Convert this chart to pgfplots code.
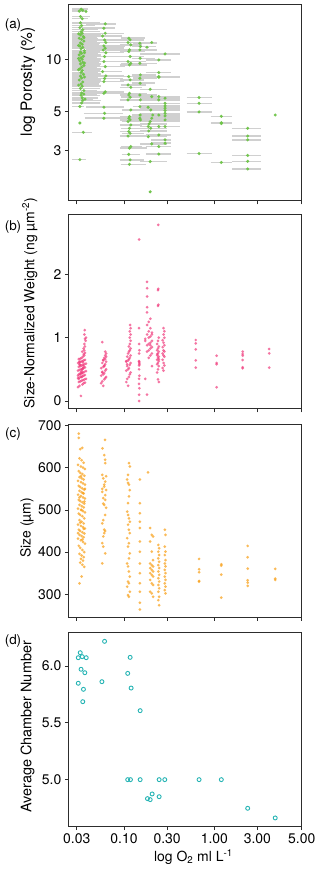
\documentclass[border=0pt]{standalone}
\usepackage{pgfplots}
\pgfplotsset{compat=1.18}
\usepackage{fontspec}
\setmainfont{TeX Gyre Heros}
\definecolor{cgreen}{RGB}{110,196,72}
\definecolor{cbar}{RGB}{208,208,208}
\definecolor{cpink}{RGB}{240,60,125}
\definecolor{corange}{RGB}{248,160,25}
\definecolor{cteal}{RGB}{38,180,180}
\definecolor{cframe}{RGB}{45,45,45}

\pgfplotsset{
 myax/.style={scale only axis, width=233.4bp,
  xminorticks=false, yminorticks=false,
  tick align=outside, xtick pos=bottom, ytick pos=left, major tick length=3.5bp,
  axis line style={cframe, line width=1pt}, tick style={cframe, line width=0.8pt},
  tick label style={font=\fontsize{14}{14}\selectfont},
  anchor=south west,
 },
}

\begin{document}
\begin{tikzpicture}
\useasboundingbox (0bp,0bp) rectangle (320bp,872bp);

% (a)
\begin{axis}[myax, at={(68.3bp,671bp)}, height=196bp,
  xmode=log, xmin=0.0242, xmax=9.27, xtick={0.03,0.1,0.3,1,3,9.27}, xticklabels={},
  ymode=log, ymin=1.532, ymax=20.5,
  ytick={3,5,10}, yticklabels={3,5,10},
  unbounded coords=jump,
  ylabel={log Porosity (\%)},
  every axis y label/.style={at={(axis description cs:-0.173,0.607)}, rotate=90, anchor=center, font=\fontsize{15.5}{15.5}\selectfont}]
\addplot[cbar, line width=1.5pt, mark=none] coordinates {
(0.0266,19.4)(0.0400,19.4)(1,nan) (0.0266,19.1)(0.0390,19.1)(1,nan) (0.0266,18.9)(0.0385,18.9)(1,nan)
(0.0266,17.6)(0.0420,17.6)(1,nan) (0.0266,17.1)(0.0400,17.1)(1,nan) (0.0266,16.2)(0.0540,16.2)(1,nan)
(0.0266,15.6)(0.0480,15.6)(1,nan) (0.0266,15.2)(0.0550,15.2)(1,nan) (0.0266,14.8)(0.0520,14.8)(1,nan)
(0.0266,14.4)(0.0545,14.4)(1,nan) (0.0266,14.1)(0.0500,14.1)(1,nan) (0.0266,13.8)(0.0560,13.8)(1,nan)
(0.0266,13.5)(0.0540,13.5)(1,nan) (0.0266,13.2)(0.0520,13.2)(1,nan) (0.0266,13.0)(0.0550,13.0)(1,nan)
(0.0266,12.7)(0.0500,12.7)(1,nan) (0.0266,12.4)(0.0545,12.4)(1,nan) (0.0266,12.2)(0.0530,12.2)(1,nan)
(0.0266,11.9)(0.0560,11.9)(1,nan) (0.0266,11.7)(0.0540,11.7)(1,nan) (0.0266,11.5)(0.0500,11.5)(1,nan)
(0.0266,11.2)(0.0550,11.2)(1,nan) (0.0266,11.0)(0.0545,11.0)(1,nan) (0.0266,10.8)(0.0520,10.8)(1,nan)
(0.0266,10.6)(0.0555,10.6)(1,nan) (0.0266,10.4)(0.0540,10.4)(1,nan) (0.0266,10.2)(0.0500,10.2)(1,nan)
(0.0266,10.0)(0.0550,10.0)(1,nan) (0.0266,9.8)(0.0545,9.8)(1,nan) (0.0266,9.6)(0.0530,9.6)(1,nan)
(0.0266,9.4)(0.0560,9.4)(1,nan) (0.0266,9.2)(0.0540,9.2)(1,nan) (0.0266,9.0)(0.0500,9.0)(1,nan)
(0.0266,8.8)(0.0550,8.8)(1,nan) (0.0266,8.6)(0.0545,8.6)(1,nan) (0.0266,8.4)(0.0520,8.4)(1,nan)
(0.0266,8.2)(0.0555,8.2)(1,nan) (0.0266,8.0)(0.0540,8.0)(1,nan) (0.0266,7.8)(0.0500,7.8)(1,nan)
(0.0266,7.6)(0.0550,7.6)(1,nan) (0.0266,7.4)(0.0545,7.4)(1,nan) (0.0266,7.2)(0.0530,7.2)(1,nan)
(0.0266,7.0)(0.0560,7.0)(1,nan) (0.0266,6.8)(0.0540,6.8)(1,nan) (0.0266,6.6)(0.0500,6.6)(1,nan)
(0.0266,6.4)(0.0550,6.4)(1,nan) (0.0266,6.2)(0.0545,6.2)(1,nan) (0.0266,6.0)(0.0520,6.0)(1,nan)
(0.0266,5.8)(0.0555,5.8)(1,nan) (0.0266,5.6)(0.0540,5.6)(1,nan) (0.0266,5.35)(0.0360,5.35)(1,nan)
(0.0266,3.8)(0.0440,3.8)(1,nan) (0.0266,2.65)(0.0380,2.65)(1,nan)
(0.0266,14.0)(0.0480,14.0)(1,nan) (0.0266,13.3)(0.0500,13.3)(1,nan) (0.0266,12.0)(0.0470,12.0)(1,nan)
(0.0266,10.9)(0.0520,10.9)(1,nan) (0.0266,10.1)(0.0480,10.1)(1,nan) (0.0266,9.5)(0.0500,9.5)(1,nan)
(0.0266,8.7)(0.0490,8.7)(1,nan) (0.0266,7.9)(0.0520,7.9)(1,nan) (0.0266,7.1)(0.0470,7.1)(1,nan)
(0.0266,6.3)(0.0500,6.3)(1,nan) (0.0266,5.9)(0.0450,5.9)(1,nan)
(0.0380,15.97)(0.0820,15.97)(1,nan) (0.0360,15.07)(0.0800,15.07)(1,nan) (0.0370,14.1)(0.1000,14.1)(1,nan)
(0.0360,13.6)(0.0950,13.6)(1,nan) (0.0380,12.9)(0.1000,12.9)(1,nan) (0.0360,12.47)(0.0980,12.47)(1,nan)
(0.0370,11.93)(0.1020,11.93)(1,nan) (0.0360,11.57)(0.1000,11.57)(1,nan) (0.0380,11.3)(0.0950,11.3)(1,nan)
(0.0360,10.9)(0.1000,10.9)(1,nan) (0.0370,10.36)(0.0980,10.36)(1,nan) (0.0360,9.70)(0.1000,9.70)(1,nan)
(0.0380,9.07)(0.1020,9.07)(1,nan) (0.0360,8.49)(0.0950,8.49)(1,nan) (0.0370,8.02)(0.1000,8.02)(1,nan)
(0.0360,7.74)(0.0980,7.74)(1,nan) (0.0380,7.44)(0.1000,7.44)(1,nan) (0.0360,6.49)(0.1000,6.49)(1,nan)
(0.0370,6.37)(0.0950,6.37)(1,nan) (0.0380,5.30)(0.1000,5.30)(1,nan) (0.0360,4.89)(0.0980,4.89)(1,nan)
(0.0370,4.58)(0.1000,4.58)(1,nan)
(0.092,13.21)(0.170,13.21)(1,nan) (0.090,12.92)(0.165,12.92)(1,nan) (0.094,12.47)(0.175,12.47)(1,nan)
(0.090,12.09)(0.160,12.09)(1,nan) (0.092,11.32)(0.180,11.32)(1,nan) (0.090,11.07)(0.170,11.07)(1,nan)
(0.094,10.36)(0.165,10.36)(1,nan) (0.090,9.70)(0.175,9.70)(1,nan) (0.092,9.48)(0.160,9.48)(1,nan)
(0.090,9.28)(0.180,9.28)(1,nan) (0.094,7.95)(0.170,7.95)(1,nan) (0.090,7.61)(0.165,7.61)(1,nan)
(0.092,7.12)(0.175,7.12)(1,nan) (0.090,6.90)(0.160,6.90)(1,nan) (0.094,6.37)(0.180,6.37)(1,nan)
(0.090,6.23)(0.170,6.23)(1,nan) (0.092,6.05)(0.165,6.05)(1,nan) (0.090,5.84)(0.175,5.84)(1,nan)
(0.094,5.11)(0.160,5.11)(1,nan) (0.090,4.68)(0.180,4.68)(1,nan) (0.092,4.58)(0.170,4.58)(1,nan)
(0.090,4.48)(0.165,4.48)(1,nan) (0.094,4.38)(0.175,4.38)(1,nan) (0.090,4.19)(0.160,4.19)(1,nan)
(0.092,4.01)(0.180,4.01)(1,nan) (0.090,3.84)(0.170,3.84)(1,nan) (0.094,3.75)(0.165,3.75)(1,nan)
(0.090,3.62)(0.175,3.62)(1,nan) (0.092,3.15)(0.160,3.15)(1,nan) (0.090,3.08)(0.180,3.08)(1,nan)
(0.094,2.84)(0.150,2.84)(1,nan) (0.090,2.64)(0.165,2.64)(1,nan) (0.092,2.49)(0.175,2.49)(1,nan)
(0.125,12.36)(0.231,12.36)(1,nan) (0.122,11.83)(0.225,11.83)(1,nan) (0.125,11.32)(0.231,11.32)(1,nan)
(0.122,10.13)(0.220,10.13)(1,nan) (0.125,9.48)(0.231,9.48)(1,nan) (0.122,8.13)(0.225,8.13)(1,nan)
(0.125,7.78)(0.231,7.78)(1,nan) (0.122,7.28)(0.220,7.28)(1,nan) (0.125,6.23)(0.231,6.23)(1,nan)
(0.122,5.84)(0.225,5.84)(1,nan) (0.125,5.34)(0.231,5.34)(1,nan) (0.122,4.78)(0.220,4.78)(1,nan)
(0.125,4.58)(0.231,4.58)(1,nan) (0.122,4.48)(0.225,4.48)(1,nan)
(0.190,12.47)(0.215,12.47)(1,nan) (0.170,11.72)(0.190,11.72)(1,nan) (0.151,6.72)(0.300,6.72)(1,nan)
(0.151,6.10)(0.300,6.10)(1,nan) (0.151,5.30)(0.420,5.30)(1,nan) (0.151,5.11)(0.420,5.11)(1,nan)
(0.151,4.78)(0.300,4.78)(1,nan) (0.151,4.58)(0.420,4.58)(1,nan) (0.151,4.38)(0.420,4.38)(1,nan)
(0.151,4.25)(0.300,4.25)(1,nan) (0.151,4.10)(0.420,4.10)(1,nan) (0.151,4.01)(0.300,4.01)(1,nan)
(0.151,3.87)(0.300,3.87)(1,nan) (0.151,3.59)(0.300,3.59)(1,nan) (0.151,3.26)(0.300,3.26)(1,nan)
(0.151,2.58)(0.300,2.58)(1,nan) (0.190,1.73)(0.200,1.73)(1,nan)
(0.175,9.91)(0.330,9.91)(1,nan) (0.175,8.38)(0.330,8.38)(1,nan) (0.151,7.95)(0.420,7.95)(1,nan)
(0.151,7.88)(0.420,7.88)(1,nan) (0.151,6.10)(0.420,6.10)(1,nan) (0.151,5.84)(0.420,5.84)(1,nan)
(0.151,4.78)(0.420,4.78)(1,nan) (0.151,4.10)(0.420,4.10)(1,nan) (0.175,3.67)(0.330,3.67)(1,nan)
(0.175,3.15)(0.330,3.15)(1,nan) (0.175,2.85)(0.330,2.85)(1,nan)
(0.151,10.73)(0.420,10.73)(1,nan) (0.151,5.97)(0.420,5.97)(1,nan) (0.151,5.58)(0.420,5.58)(1,nan)
(0.151,5.39)(0.420,5.39)(1,nan) (0.151,5.23)(0.420,5.23)(1,nan) (0.151,5.07)(0.420,5.07)(1,nan)
(0.151,4.89)(0.420,4.89)(1,nan) (0.151,4.72)(0.420,4.72)(1,nan) (0.151,4.48)(0.420,4.48)(1,nan)
(0.151,4.10)(0.420,4.10)(1,nan) (0.200,3.44)(0.330,3.44)(1,nan) (0.200,3.29)(0.330,3.29)(1,nan)
(0.495,6.02)(0.936,6.02)(1,nan) (0.495,5.58)(0.936,5.58)(1,nan) (0.495,4.98)(0.936,4.98)(1,nan)
(0.495,2.87)(0.936,2.87)(1,nan)
(0.912,4.70)(1.556,4.70)(1,nan) (0.912,4.32)(1.556,4.32)(1,nan) (0.912,4.27)(1.556,4.27)(1,nan)
(0.912,2.55)(1.556,2.55)(1,nan)
(1.58,4.01)(3.25,4.01)(1,nan) (1.58,3.62)(3.25,3.62)(1,nan) (1.58,3.44)(3.25,3.44)(1,nan)
(1.58,2.80)(3.25,2.80)(1,nan) (1.58,2.59)(3.25,2.59)(1,nan) (1.58,2.34)(3.25,2.34)(1,nan)
};
\addplot[only marks, mark=*, color=cgreen, mark size=1.7pt, mark options={fill=cgreen, draw=cgreen, fill opacity=0.95, draw opacity=0}] coordinates {
(0.0335,19.4) (0.0350,19.1) (0.0320,18.9) (0.0380,18.8) (0.0330,17.6) (0.0345,17.1) (0.0330,16.2) (0.0340,15.6) (0.0325,15.2) (0.0350,14.8)
(0.0335,14.4) (0.0345,14.1) (0.0330,13.8) (0.0355,13.5) (0.0320,13.2) (0.0340,13.0) (0.0360,12.7) (0.0330,12.4) (0.0345,12.2) (0.0325,11.9)
(0.0350,11.7) (0.0335,11.5) (0.0365,11.2) (0.0330,11.0) (0.0340,10.8) (0.0320,10.6) (0.0355,10.4) (0.0335,10.2) (0.0345,10.0) (0.0325,9.8)
(0.0350,9.6) (0.0330,9.4) (0.0360,9.2) (0.0340,9.0) (0.0325,8.8) (0.0345,8.6) (0.0335,8.4) (0.0355,8.2) (0.0330,8.0) (0.0340,7.8)
(0.0320,7.6) (0.0350,7.4) (0.0335,7.2) (0.0345,7.0) (0.0330,6.8) (0.0360,6.6) (0.0340,6.4) (0.0335,6.2) (0.0345,6.0) (0.0350,5.8)
(0.0340,5.6) (0.0325,5.35) (0.0325,4.3) (0.0355,3.8) (0.0325,2.65)
(0.0315,14.0) (0.0360,13.3) (0.0315,12.0) (0.0365,10.9) (0.0315,10.1) (0.0365,9.5) (0.0315,8.7) (0.0365,7.9) (0.0315,7.1) (0.0360,6.3) (0.0370,5.9)
(0.0620,15.97) (0.0600,15.07) (0.0620,14.1) (0.0580,13.6) (0.0610,12.9) (0.0630,12.47) (0.0600,11.93) (0.0620,11.57) (0.0590,11.3) (0.0630,10.9)
(0.0610,10.36) (0.0600,9.70) (0.0620,9.07) (0.0580,8.49) (0.0630,8.02) (0.0610,7.74) (0.0600,7.44) (0.0620,6.49) (0.0600,6.37) (0.0600,5.30)
(0.0610,4.89) (0.0600,4.58)
(0.113,13.21) (0.117,12.92) (0.111,12.47) (0.119,12.09) (0.115,11.32) (0.113,11.07) (0.117,10.36) (0.111,9.70) (0.119,9.48) (0.115,9.28)
(0.113,7.95) (0.117,7.61) (0.111,7.12) (0.119,6.90) (0.115,6.37) (0.113,6.23) (0.117,6.05) (0.111,5.84) (0.119,5.11) (0.115,4.68)
(0.113,4.58) (0.117,4.48) (0.111,4.38) (0.119,4.19) (0.115,4.01) (0.113,3.84) (0.117,3.75) (0.111,3.62) (0.119,3.15) (0.115,3.08)
(0.113,2.84) (0.117,2.64) (0.115,2.49)
(0.150,12.36) (0.152,11.83) (0.150,11.32) (0.151,10.13) (0.150,9.48) (0.152,8.13) (0.150,7.78) (0.151,7.28) (0.150,6.23) (0.152,5.84)
(0.150,5.34) (0.151,4.78) (0.150,4.58) (0.152,4.48)
(0.203,12.47) (0.180,11.72) (0.195,6.72) (0.203,6.10) (0.185,5.30) (0.198,5.11) (0.208,4.78) (0.203,4.58) (0.195,4.38) (0.190,4.25)
(0.186,4.10) (0.198,4.01) (0.188,3.87) (0.186,3.59) (0.203,3.26) (0.195,2.58) (0.195,1.73)
(0.243,9.91) (0.243,8.38) (0.243,7.95) (0.243,7.88) (0.243,6.10) (0.243,5.84) (0.243,4.78) (0.243,4.10) (0.243,3.67) (0.243,3.15) (0.243,2.85)
(0.285,10.73) (0.285,5.97) (0.285,5.58) (0.285,5.39) (0.285,5.23) (0.285,5.07) (0.285,4.89) (0.285,4.72) (0.285,4.48) (0.285,4.10) (0.285,3.44) (0.285,3.29)
(0.678,6.02) (0.678,5.58) (0.678,4.98) (0.678,2.87)
(1.195,4.70) (1.195,4.32) (1.195,4.27) (1.195,2.55)
(2.34,4.01) (2.34,3.62) (2.34,3.44) (2.34,2.80) (2.34,2.59) (2.34,2.34)
(4.72,4.78)
};
\end{axis}

% (b)
\begin{axis}[myax, at={(68.3bp,463bp)}, height=194bp,
  xmode=log, xmin=0.0242, xmax=9.27, xtick={0.03,0.1,0.3,1,3,9.27}, xticklabels={},
  ymin=-0.126, ymax=2.936,
  ytick={0,1,2}, yticklabels={0,1,2},
  ylabel={Size-Normalized Weight (ng µm\textsuperscript{-2})},
  every axis y label/.style={at={(axis description cs:-0.165,0.545)}, rotate=90, anchor=center, font=\fontsize{14}{14}\selectfont}]
\addplot[only marks, mark=*, color=cpink, mark size=1.5pt, mark options={fill=cpink, draw=cpink, fill opacity=0.7, draw opacity=0}] coordinates {
(0.0334,0.08) (0.0310,0.22) (0.0322,0.24) (0.0346,0.26) (0.0358,0.28) (0.0370,0.29) (0.0316,0.30) (0.0328,0.31) (0.0340,0.32) (0.0352,0.33) (0.0364,0.34) (0.0380,0.35)
(0.0310,0.36) (0.0322,0.37) (0.0334,0.38) (0.0346,0.39) (0.0358,0.40) (0.0370,0.41) (0.0316,0.42) (0.0328,0.43) (0.0340,0.44) (0.0352,0.45) (0.0364,0.46) (0.0380,0.47)
(0.0310,0.48) (0.0322,0.49) (0.0334,0.50) (0.0346,0.51) (0.0358,0.52) (0.0370,0.53) (0.0316,0.54) (0.0328,0.55) (0.0340,0.56) (0.0352,0.57) (0.0364,0.58) (0.0380,0.59)
(0.0310,0.60) (0.0322,0.61) (0.0334,0.62) (0.0346,0.63) (0.0358,0.64) (0.0370,0.65) (0.0316,0.66) (0.0328,0.67) (0.0340,0.68) (0.0352,0.70) (0.0364,0.72) (0.0358,0.74)
(0.0370,0.76) (0.0346,0.78) (0.0364,0.80) (0.0358,0.83) (0.0370,0.86) (0.0364,0.90) (0.0376,0.95) (0.0370,0.98) (0.0380,1.00) (0.0364,1.05) (0.0368,1.12)
(0.0316,0.35) (0.0328,0.42) (0.0340,0.47) (0.0352,0.52) (0.0322,0.58) (0.0334,0.45) (0.0346,0.50) (0.0358,0.55) (0.0310,0.40) (0.0322,0.62) (0.0340,0.38) (0.0352,0.61) (0.0328,0.57) (0.0346,0.44)
(0.0590,0.24) (0.0560,0.28) (0.0575,0.31) (0.0605,0.34) (0.0620,0.36) (0.0635,0.38) (0.0560,0.40) (0.0590,0.42) (0.0605,0.44) (0.0575,0.46) (0.0620,0.48) (0.0635,0.50)
(0.0560,0.52) (0.0590,0.54) (0.0605,0.56) (0.0620,0.58) (0.0575,0.60) (0.0635,0.62) (0.0590,0.64) (0.0620,0.66) (0.0605,0.68) (0.0635,0.70) (0.0620,0.72) (0.0635,0.75)
(0.0620,0.78) (0.0575,0.93) (0.0575,0.45) (0.0605,0.55) (0.0590,0.65)
(0.1110,0.24) (0.1060,0.30) (0.1085,0.35) (0.1135,0.38) (0.1160,0.42) (0.1185,0.45) (0.1060,0.48) (0.1110,0.50) (0.1135,0.52) (0.1085,0.55) (0.1160,0.57) (0.1185,0.60)
(0.1060,0.62) (0.1110,0.64) (0.1135,0.66) (0.1160,0.68) (0.1085,0.70) (0.1185,0.72) (0.1110,0.75) (0.1135,0.78) (0.1160,0.80) (0.1185,0.83) (0.1135,0.86) (0.1160,0.90)
(0.1185,0.95) (0.1160,1.00) (0.1185,1.05) (0.1160,1.10) (0.1185,1.15) (0.1170,1.20) (0.1085,0.58) (0.1060,0.63)
(0.147,0.0) (0.147,0.10) (0.148,0.20) (0.147,0.27) (0.147,0.35) (0.148,0.40) (0.147,0.50) (0.147,0.56) (0.148,0.60) (0.147,0.63) (0.147,0.75) (0.148,0.80)
(0.147,0.90) (0.147,1.15) (0.147,2.55) (0.148,0.58) (0.147,0.62)
(0.180,0.10) (0.172,0.35) (0.204,0.55) (0.188,0.68) (0.196,0.72) (0.204,0.75) (0.180,0.78) (0.188,0.80) (0.196,0.83) (0.204,0.85) (0.180,0.88) (0.188,0.90)
(0.196,0.92) (0.204,0.95) (0.172,0.98) (0.188,1.00) (0.196,1.02) (0.180,1.05) (0.204,1.08) (0.188,1.10) (0.196,1.15) (0.180,1.20) (0.188,1.25) (0.196,1.30)
(0.180,1.40) (0.180,1.48) (0.180,1.65) (0.180,1.78) (0.180,1.88) (0.172,0.95) (0.204,1.05) (0.196,0.88)
(0.243,0.30) (0.238,0.34) (0.233,0.45) (0.238,0.50) (0.243,0.55) (0.233,0.58) (0.238,0.60) (0.243,0.63) (0.233,0.65) (0.238,0.68) (0.243,0.70) (0.233,0.72)
(0.238,0.75) (0.243,0.78) (0.233,0.80) (0.238,0.83) (0.243,0.86) (0.233,0.90) (0.238,0.95) (0.243,1.00) (0.238,1.50) (0.240,1.52) (0.238,1.75) (0.240,1.77)
(0.240,2.78) (0.243,0.66) (0.233,0.74)
(0.274,0.48) (0.268,0.52) (0.280,0.56) (0.274,0.60) (0.268,0.65) (0.280,0.70) (0.274,0.72) (0.268,0.75) (0.280,0.78) (0.274,0.80) (0.268,0.85) (0.280,0.88)
(0.274,0.92) (0.268,0.96) (0.280,1.00) (0.274,1.05) (0.280,1.10) (0.274,1.15)
(0.623,0.963) (0.623,0.911) (0.623,0.816) (0.623,0.642) (0.623,0.526)
(1.06,0.716) (1.06,0.60) (1.06,0.579) (1.06,0.216)
(2.06,0.779) (2.06,0.742) (2.06,0.716) (2.06,0.647) (2.06,0.532) (2.06,0.516)
(4.05,0.821) (4.05,0.753) (4.05,0.526)
};
\end{axis}

% (c)
\begin{axis}[myax, at={(68.3bp,254.7bp)}, height=193bp,
  xmode=log, xmin=0.0242, xmax=9.27, xtick={0.03,0.1,0.3,1,3,9.27}, xticklabels={},
  ymin=245.4, ymax=703,
  ytick={300,400,500,600,700}, yticklabels={300,400,500,600,700},
  ylabel={Size (µm)},
  every axis y label/.style={at={(axis description cs:-0.177,0.463)}, rotate=90, anchor=center, font=\fontsize{14}{14}\selectfont}]
\addplot[only marks, mark=*, color=corange, mark size=1.5pt, mark options={fill=corange, draw=corange, fill opacity=0.72, draw opacity=0}] coordinates {
(0.0316,681) (0.0316,671) (0.0346,647) (0.0328,644) (0.0322,622) (0.0340,618) (0.0358,612) (0.0310,607) (0.0334,603) (0.0352,600) (0.0370,597) (0.0316,592)
(0.0328,588) (0.0346,585) (0.0364,581) (0.0322,578) (0.0340,575) (0.0358,572) (0.0310,569) (0.0334,566) (0.0352,563) (0.0370,560) (0.0316,557) (0.0328,554)
(0.0346,551) (0.0364,548) (0.0322,545) (0.0340,542) (0.0358,539) (0.0310,536) (0.0334,533) (0.0352,530) (0.0370,527) (0.0316,524) (0.0328,521) (0.0346,518)
(0.0364,515) (0.0322,512) (0.0340,509) (0.0358,506) (0.0310,503) (0.0334,500) (0.0352,497) (0.0370,494) (0.0316,491) (0.0328,488) (0.0346,485) (0.0364,480)
(0.0322,476) (0.0340,472) (0.0358,468) (0.0310,465) (0.0334,462) (0.0352,459) (0.0370,456) (0.0316,453) (0.0328,450) (0.0346,447) (0.0364,444) (0.0322,441)
(0.0340,438) (0.0358,435) (0.0310,432) (0.0334,428) (0.0352,424) (0.0370,420) (0.0316,415) (0.0328,410) (0.0346,405) (0.0364,400) (0.0322,396) (0.0340,392)
(0.0358,388) (0.0334,384) (0.0352,380) (0.0328,375) (0.0346,370) (0.0364,365) (0.0340,342) (0.0322,326)
(0.0352,540) (0.0322,530) (0.0364,520) (0.0340,500) (0.0328,470) (0.0358,455) (0.0310,445) (0.0346,430) (0.0370,550) (0.0334,580)
(0.0617,666) (0.0578,646) (0.0605,630) (0.0620,619) (0.0620,611) (0.0575,583) (0.0590,575) (0.0620,567) (0.0605,555) (0.0635,547) (0.0575,543) (0.0590,528)
(0.0620,524) (0.0605,512) (0.0620,488) (0.0590,476) (0.0575,468) (0.0605,453) (0.0590,437) (0.0575,421) (0.0590,413) (0.0620,397) (0.0575,373) (0.0635,580)
(0.0605,560) (0.0575,550) (0.0620,535) (0.0590,515) (0.0635,505) (0.0620,450) (0.0605,445)
(0.1135,611) (0.1160,603) (0.1110,583) (0.1085,572) (0.1110,564) (0.1135,560) (0.1160,547) (0.1135,532) (0.1110,516) (0.1085,496) (0.1110,488) (0.1135,480)
(0.1160,472) (0.1110,465) (0.1135,453) (0.1160,445) (0.1085,433) (0.1135,421) (0.1110,413) (0.1160,397) (0.1135,385) (0.1085,373) (0.1110,366) (0.1135,354)
(0.1160,342) (0.1110,330) (0.1135,326) (0.1085,318) (0.1160,306) (0.1110,298) (0.1135,294)
(0.150,572) (0.150,516) (0.150,492) (0.150,472) (0.150,457) (0.150,425) (0.150,401) (0.150,373) (0.150,350) (0.150,326) (0.150,306) (0.150,280) (0.150,264)
(0.185,589)
(0.195,457) (0.203,441) (0.210,437) (0.195,425) (0.203,401) (0.210,381) (0.195,373) (0.203,369) (0.210,366) (0.195,362) (0.203,358) (0.210,354)
(0.195,350) (0.203,346) (0.210,342) (0.195,334) (0.203,326) (0.210,322) (0.195,306) (0.203,302) (0.210,294)
(0.240,417) (0.245,409) (0.240,401) (0.245,393) (0.240,385) (0.245,377) (0.240,369) (0.245,362) (0.240,354) (0.245,346) (0.240,338) (0.245,330)
(0.240,322) (0.245,314) (0.240,306) (0.245,294) (0.240,286) (0.245,274)
(0.283,453) (0.288,441) (0.283,413) (0.288,401) (0.283,393) (0.288,381) (0.283,373) (0.288,366) (0.283,358) (0.288,350) (0.283,342) (0.288,334)
(0.283,326) (0.288,318) (0.283,310) (0.288,302)
(0.678,383.8) (0.678,359.3) (0.678,352.2) (0.678,331.6) (0.678,330)
(1.195,371.1) (1.195,368) (1.195,346.6) (1.195,292.1)
(2.34,414.6) (2.34,387.7) (2.34,360.9) (2.34,333.2) (2.34,327.7) (2.34,319.8)
(4.72,360.1) (4.72,337.2) (4.72,334)
};
\end{axis}

% (d)
\begin{axis}[myax, at={(68.3bp,45.3bp)}, height=194bp,
  xmode=log, xmin=0.0242, xmax=9.27, xtick={0.03,0.1,0.3,1,3,9.27},
  xticklabels={0.03,0.10,0.30,1.00,3.00,5.00},
  ymin=4.586, ymax=6.293,
  ytick={5,5.5,6}, yticklabels={5.0,5.5,6.0},
  ylabel={Average Chamber Number},
  every axis y label/.style={at={(axis description cs:-0.175,0.514)}, rotate=90, anchor=center, font=\fontsize{14.5}{14.5}\selectfont},
  xlabel={log O\textsubscript{2} ml L\textsuperscript{-1}},
  every axis x label/.style={at={(axis description cs:0.536,-0.156)}, anchor=center, font=\fontsize{14}{14}\selectfont}]
\addplot[only marks, mark=o, color=cteal, mark size=2pt, line width=0.9pt] coordinates {
(0.0328,6.117) (0.0312,6.073) (0.0345,6.082) (0.0382,6.073) (0.0335,5.971) (0.0369,5.941) (0.0312,5.848) (0.0356,5.795) (0.0350,5.686)
(0.0610,6.217) (0.0570,5.862)
(0.117,6.076) (0.110,5.935) (0.120,5.806) (0.151,5.607)
(0.110,5.0) (0.118,5.0) (0.151,5.0) (0.245,5.0) (0.283,5.0) (0.678,5.0) (1.195,5.0)
(0.182,4.833) (0.195,4.824) (0.205,4.874) (0.245,4.850)
(2.34,4.748) (4.72,4.663)
};
\end{axis}

\node[font=\fontsize{13.5}{13.5}\selectfont] at (13bp,847bp) {(a)};
\node[font=\fontsize{13.5}{13.5}\selectfont] at (13bp,645bp) {(b)};
\node[font=\fontsize{13.5}{13.5}\selectfont] at (13bp,438bp) {(c)};
\node[font=\fontsize{13.5}{13.5}\selectfont] at (13bp,231bp) {(d)};
\end{tikzpicture}
\end{document}
